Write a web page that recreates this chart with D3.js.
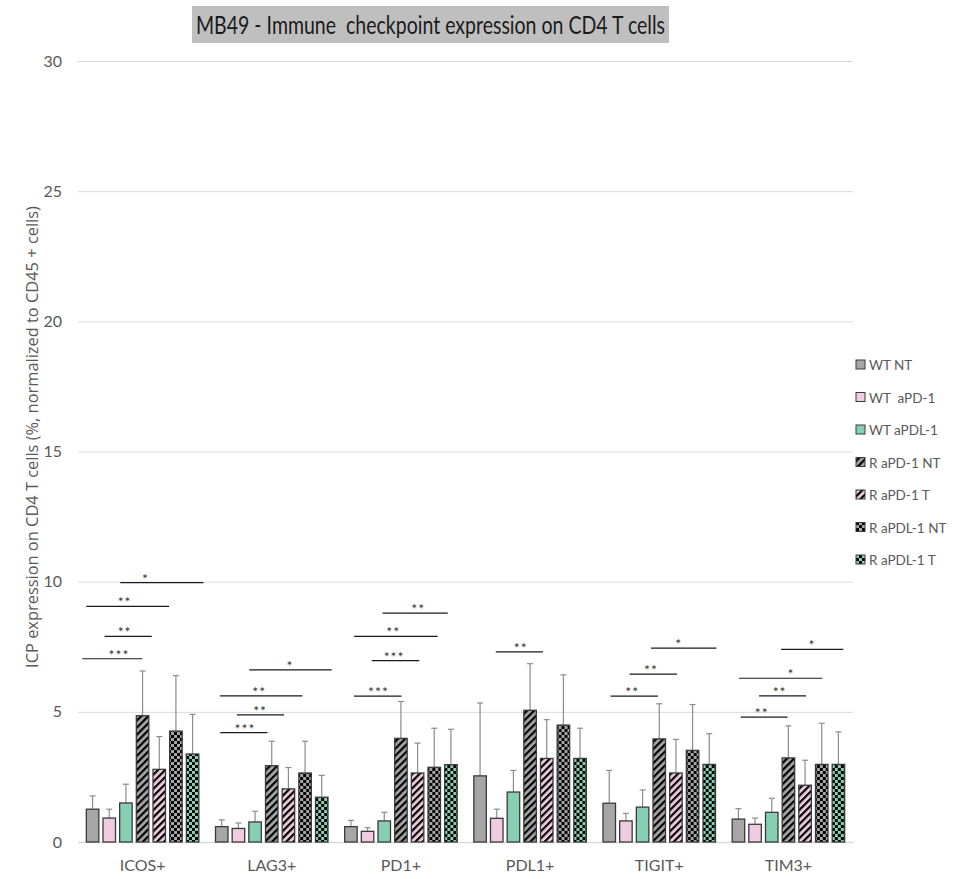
<!DOCTYPE html>
<html>
<head>
<meta charset="utf-8">
<script src="https://cdn.jsdelivr.net/npm/d3@7"></script>
<style>
  html, body { margin: 0; padding: 0; background: #fff; }
  svg { display: block; }
  text { white-space: pre; }
</style>
</head>
<body>
<svg id="chart" width="954" height="879"></svg>
<script>
// ---------- DATA ----------
const title = "MB49 - Immune  checkpoint expression on CD4 T cells";
const yLabel = "ICP expression on CD4 T cells (%, normalized to CD45 + cells)";
const categories = ["ICOS+", "LAG3+", "PD1+", "PDL1+", "TIGIT+", "TIM3+"];
const seriesNames = ["WT NT", "WT  aPD-1", "WT aPDL-1", "R aPD-1 NT", "R aPD-1 T", "R aPDL-1 NT", "R aPDL-1 T"];
const yTicks = [0, 5, 10, 15, 20, 25, 30];

// mean values per series (order of categories)
const wtNT      = [1.26, 0.59, 0.59, 2.54, 1.49, 0.88];
const wtAPD1    = [0.92, 0.52, 0.41, 0.91, 0.81, 0.68];
const wtAPDL1   = [1.50, 0.77, 0.81, 1.92, 1.34, 1.14];
const rAPD1NT   = [4.85, 2.93, 3.98, 5.06, 3.96, 3.23];
const rAPD1T    = [2.79, 2.04, 2.65, 3.21, 2.65, 2.18];
const rAPDL1NT  = [4.26, 2.65, 2.87, 4.49, 3.52, 2.98];
const rAPDL1T   = [3.38, 1.72, 2.97, 3.21, 2.98, 2.98];

// top of error bar per series
const wtNTErr     = [1.77, 0.85, 0.83, 5.34, 2.75, 1.28];
const wtAPD1Err   = [1.26, 0.73, 0.55, 1.26, 1.10, 0.92];
const wtAPDL1Err  = [2.22, 1.18, 1.14, 2.75, 2.00, 1.68];
const rAPD1NTErr  = [6.57, 3.87, 5.40, 6.85, 5.31, 4.46];
const rAPD1TErr   = [4.05, 2.86, 3.80, 4.70, 3.94, 3.14];
const rAPDL1NTErr = [6.39, 3.87, 4.37, 6.42, 5.28, 4.56];
const rAPDL1TErr  = [4.90, 2.56, 4.33, 4.37, 4.16, 4.23];

const seriesValues = [wtNT, wtAPD1, wtAPDL1, rAPD1NT, rAPD1T, rAPDL1NT, rAPDL1T];
const seriesErrors = [wtNTErr, wtAPD1Err, wtAPDL1Err, rAPD1NTErr, rAPD1TErr, rAPDL1NTErr, rAPDL1TErr];

// significance brackets: category, from / to (bar-index units), height (value), label, label position (bar-index units)
const sigCategory = ["ICOS+", "ICOS+", "ICOS+", "ICOS+",
                     "LAG3+", "LAG3+", "LAG3+", "LAG3+",
                     "PD1+", "PD1+", "PD1+", "PD1+",
                     "PDL1+",
                     "TIGIT+", "TIGIT+", "TIGIT+",
                     "TIM3+", "TIM3+", "TIM3+", "TIM3+"];
const sigFrom   = [1.66, -0.38, 0.72, -0.62,  1.65, -0.11, 0.91, -0.09,  1.90, 0.19, 1.25, 0.19,  0.94,  2.51, 1.22, 0.08,  2.56, 0.04, 1.24, 0.14];
const sigTo     = [6.65, 4.59, 3.55, 2.98,    6.60, 4.84, 3.74, 2.74,    5.81, 5.20, 4.10, 3.04,  3.77,  6.43, 4.07, 2.92,  6.29, 5.03, 4.05, 2.95];
const sigHeight = [9.96, 9.05, 7.90, 7.04,    6.61, 5.61, 4.88, 4.20,    8.79, 7.90, 6.97, 5.60,  7.30,  7.45, 6.45, 5.60,  7.40, 6.29, 5.61, 4.80];
const sigLabel  = ["*", "**", "**", "***",    "*", "**", "**", "***",    "**", "**", "***", "***", "**", "*", "**", "**",   "*", "*", "**", "**"];
const sigLabelX = [3.17, 1.92, 1.92, 1.58,    4.10, 2.25, 2.30, 1.39,    4.04, 2.54, 2.59, 1.65,  2.44,  4.17, 2.50, 1.38,  4.41, 3.16, 2.47, 1.40];

// ---------- STYLES ----------
const baseFill = ["#a6a6a6", "#f0cce2", "#86cfb3", "#a6a6a6", "#f0cce2", "#a6a6a6", "#86cfb3"];
const patternType = ["solid", "solid", "solid", "stripe", "stripe", "check", "check"];
const axisColor = "#595959";
const fontFam = "Lato, 'Liberation Sans', sans-serif";

const svg = d3.select("#chart");
const W = 954, H = 879;
const margin = { left: 78, right: W - 853, top: 61, bottom: H - 842 };

const x0 = d3.scaleBand().domain(categories).range([margin.left, W - margin.right]).paddingInner(0).paddingOuter(0);
const x1 = d3.scaleBand().domain(seriesNames).range([0, x0.bandwidth()]).paddingInner(0.25).paddingOuter(0.5);
const y = d3.scaleLinear().domain([0, 30]).range([H - margin.bottom, margin.top]);

// patterns
const defs = svg.append("defs");
seriesNames.forEach((s, i) => {
  if (patternType[i] === "stripe") {
    const p = defs.append("pattern").attr("id", "pat" + i)
      .attr("patternUnits", "userSpaceOnUse").attr("width", 5).attr("height", 5)
      .attr("patternTransform", "rotate(45)");
    p.append("rect").attr("width", 5).attr("height", 5).attr("fill", baseFill[i]);
    p.append("rect").attr("width", 2.2).attr("height", 5).attr("fill", "#000");
  } else if (patternType[i] === "check") {
    const p = defs.append("pattern").attr("id", "pat" + i)
      .attr("patternUnits", "userSpaceOnUse").attr("width", 6).attr("height", 6);
    p.append("rect").attr("width", 6).attr("height", 6).attr("fill", baseFill[i]);
    p.append("rect").attr("width", 3).attr("height", 3).attr("fill", "#000");
    p.append("rect").attr("x", 3).attr("y", 3).attr("width", 3).attr("height", 3).attr("fill", "#000");
  }
});
const fillOf = i => patternType[i] === "solid" ? baseFill[i] : `url(#pat${i})`;

// gridlines
const yAxis = d3.axisLeft(y).tickValues(yTicks).tickSize(-(W - margin.left - margin.right)).tickPadding(16);
const gy = svg.append("g").attr("transform", `translate(${margin.left},0)`).call(yAxis);
gy.select(".domain").remove();
gy.selectAll(".tick line").attr("stroke", "#d9d9d9").attr("stroke-width", 1);
gy.selectAll(".tick text").attr("fill", axisColor).attr("font-family", fontFam).attr("font-size", 16);

// x axis labels
const xAxis = d3.axisBottom(x0).tickSize(0).tickPadding(18);
const gx = svg.append("g").attr("transform", `translate(0,${y(0)})`).call(xAxis);
gx.select(".domain").attr("stroke", "#d9d9d9").attr("stroke-width", 1.5);
gx.selectAll(".tick text").attr("fill", axisColor).attr("font-family", fontFam).attr("font-size", 16);

// bars
const groups = svg.append("g").selectAll("g").data(categories).join("g")
  .attr("transform", d => `translate(${x0(d)},0)`);

seriesNames.forEach((s, si) => {
  groups.append("line")
    .attr("x1", (d, ci) => x1(s) + x1.bandwidth() / 2)
    .attr("x2", (d, ci) => x1(s) + x1.bandwidth() / 2)
    .attr("y1", (d, ci) => y(seriesValues[si][ci]))
    .attr("y2", (d, ci) => y(seriesErrors[si][ci]))
    .attr("stroke", "#8c8c8c").attr("stroke-width", 1.2);
  groups.append("line")
    .attr("x1", (d, ci) => x1(s) + x1.bandwidth() / 2 - 3)
    .attr("x2", (d, ci) => x1(s) + x1.bandwidth() / 2 + 3)
    .attr("y1", (d, ci) => y(seriesErrors[si][ci]))
    .attr("y2", (d, ci) => y(seriesErrors[si][ci]))
    .attr("stroke", "#8c8c8c").attr("stroke-width", 1.2);
  groups.append("rect")
    .attr("x", x1(s))
    .attr("width", x1.bandwidth())
    .attr("y", (d, ci) => y(seriesValues[si][ci]))
    .attr("height", (d, ci) => y(0) - y(seriesValues[si][ci]))
    .attr("fill", fillOf(si))
    .attr("stroke", "#3a3a3a").attr("stroke-width", 1.3);
});

// significance brackets
const idxToX = (cat, idx) => x0(cat) + x1(seriesNames[0]) + x1.bandwidth() / 2 + idx * x1.step();
const sig = svg.append("g");
sigCategory.forEach((cat, k) => {
  sig.append("line")
    .attr("x1", idxToX(cat, sigFrom[k])).attr("x2", idxToX(cat, sigTo[k]))
    .attr("y1", y(sigHeight[k])).attr("y2", y(sigHeight[k]))
    .attr("stroke", "#1a1a1a").attr("stroke-width", 1.2);
  sig.append("text")
    .attr("x", idxToX(cat, sigLabelX[k])).attr("y", y(sigHeight[k]) + 1)
    .attr("text-anchor", "middle")
    .attr("font-family", fontFam).attr("font-size", 14).attr("fill", "#333")
    .attr("letter-spacing", 1)
    .text(sigLabel[k]);
});

// y label
const yl = svg.append("text")
  .attr("transform", `translate(38,437) rotate(-90)`)
  .attr("text-anchor", "middle")
  .attr("font-family", "'Open Sans', sans-serif").attr("font-size", 14).attr("fill", axisColor)
  .text(yLabel);
{
  const len = yl.node().getComputedTextLength();
  yl.attr("font-size", 14 * 462 / len);
}

// title
const tg = svg.append("g");
tg.append("rect").attr("fill", "#bfbfbf")
  .attr("x", 192).attr("y", 6).attr("width", 477).attr("height", 37);
tg.append("text")
  .attr("x", 196).attr("y", 34)
  .attr("font-family", fontFam).attr("font-size", 25).attr("fill", "#1a1a1a")
  .attr("textLength", 469).attr("lengthAdjust", "spacingAndGlyphs")
  .text(title);

// legend
const legend = svg.append("g").attr("transform", "translate(856,0)");
const ly = d3.scalePoint().domain(seriesNames).range([365, 560]);
seriesNames.forEach((s, i) => {
  legend.append("rect").attr("x", 0).attr("y", ly(s) - 5).attr("width", 9).attr("height", 9)
    .attr("fill", fillOf(i)).attr("stroke", "#3a3a3a").attr("stroke-width", 1);
  legend.append("text").attr("x", 13).attr("y", ly(s) + 5)
    .attr("font-family", fontFam).attr("font-size", 13.5).attr("fill", axisColor)
    .text(s);
});
</script>
</body>
</html>
